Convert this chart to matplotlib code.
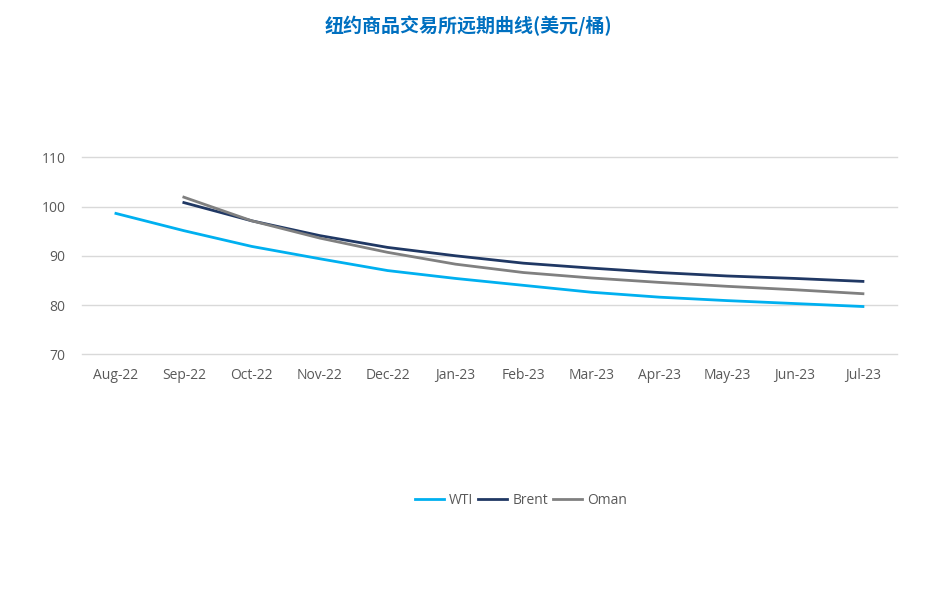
import matplotlib.pyplot as plt

plt.rcParams['font.family'] = ['Open Sans', 'Noto Sans CJK SC', 'DejaVu Sans']

months = ['Aug-22', 'Sep-22', 'Oct-22', 'Nov-22', 'Dec-22', 'Jan-23',
          'Feb-23', 'Mar-23', 'Apr-23', 'May-23', 'Jun-23', 'Jul-23']
wti = [98.6, 95.1, 91.9, 89.4, 87.0, 85.4, 84.0, 82.6, 81.6, 80.9, 80.3, 79.7]
brent = [None, 100.8, 97.1, 94.1, 91.7, 90.0, 88.5, 87.5, 86.6, 85.9, 85.4, 84.8]
oman = [None, 101.9, 97.1, 93.6, 90.7, 88.3, 86.6, 85.5, 84.6, 83.8, 83.1, 82.3]

x = list(range(len(months)))

fig = plt.figure(figsize=(9.37, 6.01), dpi=100)
ax = fig.add_axes([0.0875, 0.4105, 0.8697, 0.3278])

ax.plot(x, wti, color='#00B0F0', linewidth=2.0, label='WTI')
ax.plot(x[1:], brent[1:], color='#203864', linewidth=2.0, label='Brent')
ax.plot(x[1:], oman[1:], color='#808080', linewidth=2.0, label='Oman')

ax.set_xlim(-0.5, len(months) - 0.5)
ax.set_ylim(70, 110)
ax.set_yticks([70, 80, 90, 100, 110])
ax.set_xticks(x)
ax.set_xticklabels(months)
ax.tick_params(length=0, labelsize=10, colors='#595959')
ax.tick_params(axis='x', pad=10)
ax.tick_params(axis='y', pad=12)
ax.grid(axis='y', color='#D9D9D9', linewidth=1)
for gl in ax.get_ygridlines():
    gl.set_clip_on(False)
ax.set_axisbelow(True)
for s in ax.spines.values():
    s.set_visible(False)

fig.suptitle('纽约商品交易所远期曲线(美元/桶)', x=0.5, y=0.975,
             fontsize=13.7, fontweight='bold', color='#0070C0',
             family=['Noto Sans CJK SC', 'DejaVu Sans'])

fig.legend(loc='center', bbox_to_anchor=(0.556, 0.167), ncol=3, frameon=False,
           fontsize=10, labelcolor='#595959', handlelength=2.1,
           handletextpad=0.35, columnspacing=0.35)

fig.savefig('out.png', dpi=100)
